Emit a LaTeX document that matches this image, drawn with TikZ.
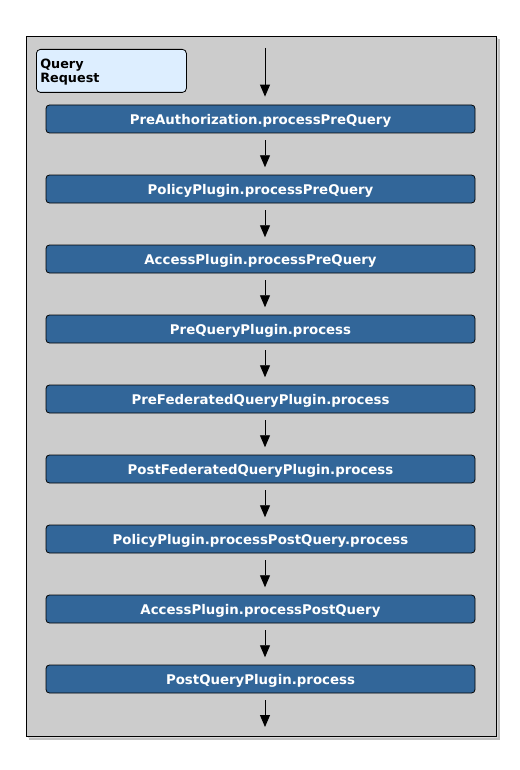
\documentclass[tikz,border=0pt]{standalone}
\usepackage{fontspec}
\setmainfont{DejaVu Sans}
\usetikzlibrary{arrows.meta}
\definecolor{panel}{HTML}{CCCCCC}
\definecolor{stepblue}{HTML}{326699}
\definecolor{reqblue}{HTML}{DDEEFF}
\newcommand\steplbl[1]{\raisebox{-1.3pt}[\height][\depth]{#1}}
\tikzset{
  stepbox/.style={draw=black, fill=stepblue, rounded corners=2.6pt, line width=0.6pt,
    minimum width=429*0.75pt, minimum height=28*0.75pt, inner sep=0pt,
    text=white, font=\bfseries\fontsize{10}{12}\selectfont},
  flow/.style={draw=black, line width=0.65pt, -{Triangle[length=9pt,width=7.5pt]}},
}
\begin{document}
\begin{tikzpicture}[x=0.75pt,y=-0.75pt]
\useasboundingbox (0,0) rectangle (520,770);
\fill[black!25] (29,39) rectangle (500,740);
\fill[black!15] (28,38) rectangle (498,738);
\draw[fill=panel, line width=0.6pt] (26,36) rectangle (496,736);
\node[draw=black, fill=reqblue, rounded corners=3pt, line width=0.6pt, minimum width=150*0.75pt, minimum height=43*0.75pt, anchor=north west, inner sep=0pt] (req) at (36,49) {};
\node[anchor=north west, align=left, font=\bfseries\fontsize{9.6}{10.5}\selectfont, inner sep=0pt] (reqtxt) at (40,58.5) {Query\\Request};
\coordinate (top) at (265,48);
\node[stepbox] (s1) at (260.5,119) {\steplbl{PreAuthorization.processPreQuery}};
\node[stepbox] (s2) at (260.5,189) {\steplbl{PolicyPlugin.processPreQuery}};
\node[stepbox] (s3) at (260.5,259) {\steplbl{AccessPlugin.processPreQuery}};
\node[stepbox] (s4) at (260.5,329) {\steplbl{PreQueryPlugin.process}};
\node[stepbox] (s5) at (260.5,399) {\steplbl{PreFederatedQueryPlugin.process}};
\node[stepbox] (s6) at (260.5,469) {\steplbl{PostFederatedQueryPlugin.process}};
\node[stepbox] (s7) at (260.5,539) {\steplbl{PolicyPlugin.processPostQuery.process}};
\node[stepbox] (s8) at (260.5,609) {\steplbl{AccessPlugin.processPostQuery}};
\node[stepbox] (s9) at (260.5,679) {\steplbl{PostQueryPlugin.process}};
\coordinate (bot) at (265,727);
\draw[flow, shorten >=6pt] (top) -- (s1.north -| top);
\foreach \a/\b in {s1/s2,s2/s3,s3/s4,s4/s5,s5/s6,s6/s7,s7/s8,s8/s9} {
  \draw[flow, shorten <=5.25pt, shorten >=5.5pt] (\a.south -| top) -- (\b.north -| top);
}
\draw[flow, shorten <=5.25pt] (s9.south -| top) -- (bot);
\end{tikzpicture}
\end{document}
